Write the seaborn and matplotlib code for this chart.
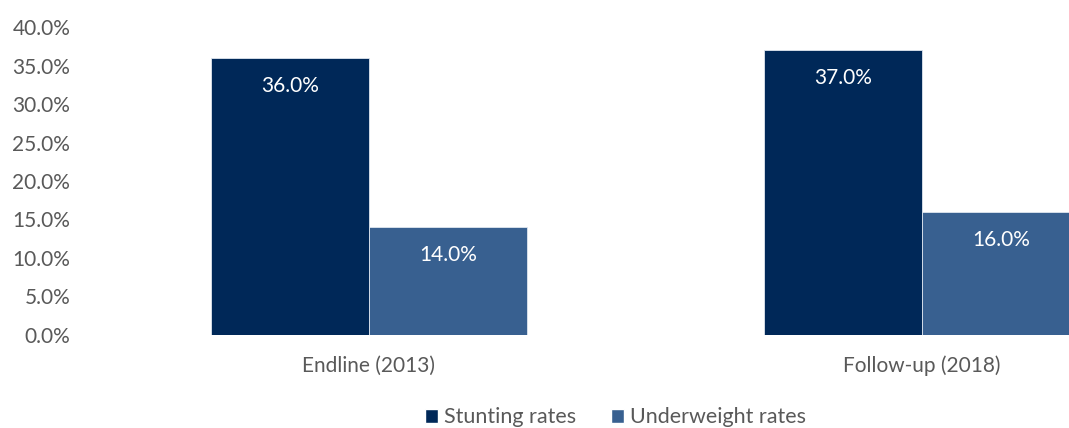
import numpy as np
import pandas as pd
import matplotlib.pyplot as plt
import seaborn as sns
from matplotlib.patches import Patch

# datos
rondas = ["Endline (2013)", "Follow-up (2018)"]
series = ["Stunting rates", "Underweight rates"]
stunting = [36.0, 37.0]
underweight = [14.0, 16.0]

colores = ["#002858", "#386090"]
gris = "#595959"

df = pd.DataFrame({
    "Ronda": rondas * 2,
    "Serie": [series[0]] * 2 + [series[1]] * 2,
    "Valor": stunting + underweight,
})

sns.set_style("white")
plt.rcParams["font.family"] = ["Lato", "DejaVu Sans"]

fig = plt.figure(figsize=(10.69, 4.28), dpi=100)
ax = fig.add_axes([0.0865, 0.2173, 0.9135, 0.7196])

sns.barplot(
    data=df, x="Ronda", y="Valor", hue="Serie",
    order=rondas, hue_order=series, palette=colores,
    width=0.571, gap=0, saturation=1, ax=ax,
    edgecolor="#dfe6ef", linewidth=0.6, legend=False
)

# etiquetas dentro de las barras
for cont in ax.containers:
    for barra in cont:
        h = barra.get_height()
        ax.annotate(
            f"{h:.1f}%",
            (barra.get_x() + barra.get_width() / 2, h),
            xytext=(0, -20), textcoords="offset points",
            ha="center", va="center", color="white", fontsize=15
        )

ax.set_ylim(0, 40)
ax.set_xlim(-0.5, 1.266)
ax.set_yticks(np.arange(0, 41, 5))
ax.set_yticklabels([f"{v:.1f}%" for v in np.arange(0, 41, 5)])
ax.set_xlabel("")
ax.set_ylabel("")
ax.tick_params(axis="y", length=0, pad=16, labelsize=15, labelcolor=gris)
ax.tick_params(axis="x", length=0, pad=15, labelsize=15, labelcolor=gris)
for s in ax.spines.values():
    s.set_visible(False)
ax.grid(False)

handles = [Patch(facecolor=c, label=s) for c, s in zip(colores, series)]
fig.legend(
    handles=handles, loc="center", bbox_to_anchor=(0.576, 0.025),
    ncol=2, frameon=False, fontsize=15.5, labelcolor=gris,
    handlelength=0.6, handleheight=0.6, handletextpad=0.3, columnspacing=1.6
)

fig.savefig("out.png", dpi=100)
plt.close()
